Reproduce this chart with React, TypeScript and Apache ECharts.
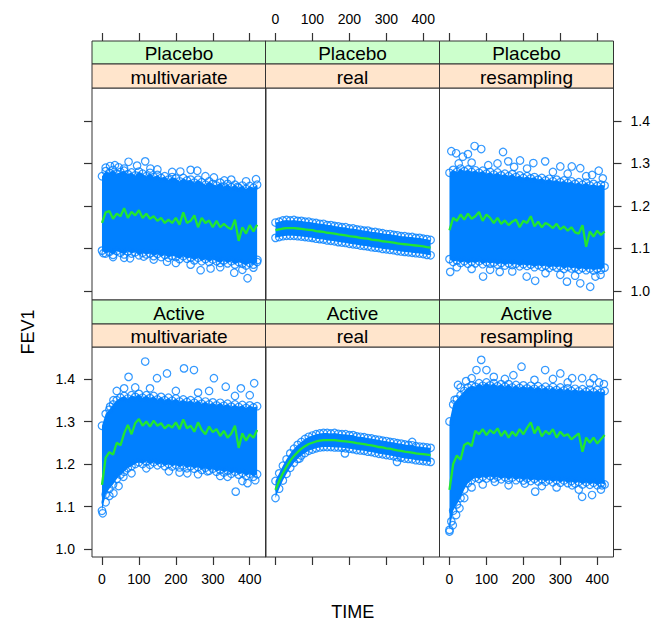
import React, { useEffect, useRef } from "react";
import * as echarts from "echarts";

// ---------- data ----------
const TIME = [0,10,20,30,40,50,60,70,80,90,100,110,120,130,140,150,160,170,180,190,200,210,220,230,240,250,260,270,280,290,300,310,320,330,340,350,360,370,380,390,400,410,420];

const TREATMENT = ["Placebo","Placebo","Placebo","Active","Active","Active"];
const METHOD = ["multivariate","real","resampling","multivariate","real","resampling"];

const X_TICKS = [0,100,200,300,400];
const Y_TICKS = [1.0,1.1,1.2,1.3,1.4];

// Placebo / multivariate
const MEAN_PM = [1.160,1.185,1.188,1.170,1.182,1.176,1.195,1.172,1.186,1.178,
  1.190,1.172,1.182,1.170,1.176,1.165,1.172,1.160,1.168,1.160,
  1.172,1.156,1.185,1.160,1.165,1.178,1.150,1.172,1.160,1.166,
  1.150,1.165,1.150,1.158,1.150,1.145,1.168,1.118,1.150,1.135,
  1.155,1.140,1.156];
const HI_PM = [1.270,1.282,1.278,1.285,1.276,1.280,1.283,1.275,1.279,1.272,
  1.281,1.276,1.270,1.278,1.268,1.273,1.266,1.270,1.262,1.268,
  1.265,1.258,1.266,1.260,1.262,1.255,1.262,1.256,1.250,1.258,
  1.252,1.248,1.255,1.246,1.252,1.244,1.250,1.243,1.248,1.240,
  1.247,1.243,1.250];
const LO_PM = [1.095,1.088,1.092,1.085,1.094,1.090,1.086,1.093,1.088,1.091,
  1.084,1.090,1.086,1.088,1.082,1.087,1.080,1.085,1.078,1.083,
  1.080,1.075,1.082,1.076,1.079,1.072,1.078,1.070,1.075,1.068,
  1.074,1.070,1.066,1.072,1.065,1.070,1.062,1.068,1.064,1.060,
  1.066,1.062,1.068];
const OUT_PM = [[22,1.294],[45,1.291],[72,1.304],[117,1.305],[131,1.288],[212,1.281],[240,1.285],[258,1.283],[303,1.267],[331,1.260],[367,1.245],[417,1.263],
  [10,1.290],[35,1.296],[60,1.288],[95,1.295],[150,1.286],[190,1.280],[280,1.270],[350,1.262],[390,1.258],
  [4,1.089],[76,1.077],[113,1.081],[176,1.069],[267,1.049],[294,1.053],[358,1.043],[394,1.030],[421,1.073],
  [30,1.080],[60,1.078],[140,1.074],[200,1.066],[240,1.062],[320,1.056],[380,1.050],[410,1.055]];

// Placebo / real
const MEAN_PR = [1.143,1.145,1.147,1.148,1.148,1.148,1.147,1.146,1.145,1.144,
  1.143,1.141,1.140,1.139,1.137,1.136,1.135,1.133,1.132,1.131,
  1.129,1.128,1.127,1.125,1.124,1.123,1.121,1.120,1.119,1.117,
  1.116,1.115,1.114,1.112,1.111,1.110,1.109,1.108,1.107,1.106,
  1.105,1.103,1.102];
const HI_PR = [1.161,1.163,1.166,1.167,1.166,1.167,1.165,1.165,1.163,1.163,
  1.161,1.160,1.158,1.158,1.155,1.155,1.153,1.152,1.150,1.150,
  1.147,1.147,1.145,1.144,1.142,1.142,1.139,1.139,1.137,1.136,
  1.134,1.134,1.132,1.131,1.129,1.129,1.127,1.127,1.125,1.125,
  1.123,1.122,1.120];
const LO_PR = [1.125,1.127,1.129,1.130,1.130,1.130,1.129,1.128,1.127,1.126,
  1.125,1.123,1.122,1.121,1.119,1.118,1.117,1.115,1.114,1.113,
  1.111,1.110,1.109,1.107,1.106,1.105,1.103,1.102,1.101,1.099,
  1.098,1.097,1.096,1.094,1.093,1.092,1.091,1.090,1.089,1.088,
  1.087,1.085,1.084];
const OUT_PR: number[][] = [];

// Placebo / resampling
const MEAN_PS = [1.143,1.172,1.165,1.180,1.168,1.182,1.170,1.176,1.186,1.165,
  1.180,1.172,1.160,1.172,1.158,1.166,1.155,1.163,1.168,1.150,
  1.165,1.160,1.176,1.152,1.163,1.150,1.160,1.155,1.148,1.158,
  1.145,1.152,1.142,1.150,1.138,1.135,1.155,1.104,1.140,1.128,
  1.142,1.132,1.140];
const HI_PS = [1.278,1.285,1.280,1.288,1.282,1.286,1.280,1.284,1.278,1.283,
  1.276,1.280,1.274,1.279,1.272,1.276,1.270,1.275,1.268,1.272,
  1.266,1.270,1.265,1.268,1.262,1.266,1.260,1.264,1.258,1.262,
  1.256,1.260,1.254,1.258,1.252,1.256,1.250,1.255,1.248,1.252,
  1.247,1.250,1.248];
const LO_PS = [1.075,1.068,1.072,1.066,1.070,1.064,1.069,1.065,1.070,1.063,
  1.068,1.064,1.067,1.062,1.066,1.060,1.065,1.061,1.064,1.058,
  1.063,1.059,1.062,1.056,1.061,1.057,1.060,1.054,1.059,1.055,
  1.058,1.052,1.057,1.053,1.055,1.050,1.054,1.049,1.053,1.048,
  1.052,1.050,1.055];
const OUT_PS = [[5,1.329],[18,1.324],[36,1.316],[50,1.322],[68,1.341],[86,1.334],[145,1.327],[159,1.305],[191,1.307],[227,1.301],[259,1.305],[300,1.293],[331,1.293],[354,1.289],[386,1.273],[404,1.283],
  [25,1.300],[60,1.302],[105,1.296],[130,1.300],[175,1.292],[210,1.288],[280,1.280],[320,1.276],[370,1.270],[415,1.265],
  [2,1.045],[91,1.034],[136,1.045],[209,1.034],[232,1.024],[318,1.022],[354,1.018],[381,1.010],[409,1.038],
  [20,1.056],[60,1.052],[110,1.050],[170,1.046],[260,1.042],[300,1.038],[340,1.036],[395,1.034]];

// Active / multivariate
const MEAN_AM = [1.151,1.215,1.228,1.222,1.250,1.244,1.272,1.292,1.270,1.296,
  1.306,1.290,1.300,1.288,1.302,1.290,1.296,1.284,1.292,1.286,
  1.298,1.282,1.305,1.284,1.290,1.276,1.298,1.280,1.270,1.288,
  1.275,1.282,1.266,1.278,1.262,1.272,1.290,1.238,1.272,1.255,
  1.270,1.262,1.280];
const HI_AM = [1.290,1.318,1.328,1.340,1.350,1.356,1.360,1.354,1.362,1.358,
  1.365,1.356,1.362,1.355,1.360,1.352,1.358,1.350,1.356,1.349,
  1.354,1.347,1.352,1.346,1.350,1.344,1.350,1.342,1.347,1.340,
  1.345,1.338,1.344,1.337,1.342,1.335,1.340,1.334,1.339,1.332,
  1.338,1.333,1.336];
const LO_AM = [1.090,1.128,1.142,1.152,1.165,1.175,1.182,1.190,1.195,1.200,
  1.204,1.200,1.206,1.198,1.204,1.197,1.202,1.195,1.200,1.194,
  1.198,1.192,1.197,1.190,1.195,1.189,1.193,1.186,1.191,1.184,
  1.189,1.182,1.186,1.180,1.184,1.177,1.182,1.175,1.179,1.172,
  1.177,1.170,1.176];
const OUT_AM = [[117,1.441],[72,1.405],[176,1.413],[222,1.425],[249,1.421],[303,1.402],[335,1.382],[376,1.378],[412,1.390],[22,1.335],[31,1.350],[149,1.402],
  [40,1.372],[60,1.378],[90,1.380],[130,1.378],[200,1.372],[260,1.368],[290,1.372],[360,1.360],[400,1.362],
  [2,1.084],[31,1.131],[58,1.170],[181,1.183],[231,1.178],[285,1.183],[340,1.170],[362,1.135],[394,1.155],
  [10,1.110],[20,1.125],[45,1.148],[80,1.178],[120,1.190],[210,1.180],[260,1.176],[320,1.172],[380,1.160],[415,1.162]];

// Active / real
const MEAN_AR = [1.139,1.160,1.178,1.194,1.208,1.219,1.228,1.236,1.242,1.247,
  1.250,1.253,1.255,1.256,1.256,1.256,1.256,1.255,1.254,1.253,
  1.252,1.251,1.249,1.248,1.247,1.245,1.244,1.242,1.240,1.239,
  1.237,1.236,1.234,1.232,1.231,1.229,1.228,1.227,1.225,1.224,
  1.223,1.222,1.221];
const HI_AR = [1.160,1.178,1.196,1.211,1.225,1.236,1.245,1.252,1.259,1.264,
  1.267,1.270,1.272,1.273,1.273,1.272,1.273,1.271,1.270,1.270,
  1.268,1.268,1.265,1.264,1.263,1.261,1.260,1.258,1.257,1.255,
  1.254,1.252,1.251,1.249,1.248,1.246,1.245,1.244,1.242,1.241,
  1.240,1.239,1.238];
const LO_AR = [1.120,1.142,1.161,1.177,1.191,1.203,1.212,1.220,1.226,1.231,
  1.234,1.237,1.239,1.240,1.240,1.240,1.239,1.239,1.238,1.237,
  1.236,1.235,1.233,1.232,1.231,1.229,1.228,1.226,1.224,1.223,
  1.221,1.220,1.218,1.216,1.215,1.213,1.212,1.211,1.209,1.208,
  1.207,1.206,1.205];
const OUT_AR = [[65,1.213],[188,1.225],[329,1.205],[370,1.252]];

// Active / resampling
const MEAN_AS = [1.139,1.200,1.220,1.210,1.245,1.250,1.242,1.278,1.270,1.282,
  1.268,1.280,1.272,1.284,1.266,1.278,1.262,1.276,1.266,1.282,
  1.270,1.285,1.298,1.272,1.288,1.265,1.278,1.270,1.282,1.262,
  1.276,1.266,1.270,1.258,1.265,1.272,1.229,1.262,1.250,1.262,
  1.248,1.258,1.268];
const HI_AS = [1.300,1.340,1.352,1.362,1.372,1.380,1.385,1.382,1.390,1.384,
  1.392,1.385,1.390,1.383,1.388,1.382,1.388,1.380,1.386,1.379,
  1.385,1.378,1.384,1.377,1.383,1.376,1.382,1.375,1.381,1.374,
  1.380,1.373,1.378,1.372,1.377,1.371,1.376,1.370,1.375,1.369,
  1.374,1.368,1.372];
const LO_AS = [1.045,1.090,1.105,1.120,1.140,1.155,1.162,1.168,1.165,1.170,
  1.166,1.172,1.166,1.170,1.164,1.169,1.163,1.168,1.162,1.167,
  1.161,1.166,1.160,1.165,1.159,1.164,1.158,1.163,1.157,1.162,
  1.156,1.161,1.155,1.160,1.154,1.158,1.152,1.157,1.151,1.156,
  1.150,1.155,1.152];
const OUT_AS = [[86,1.445],[73,1.421],[100,1.421],[23,1.386],[195,1.429],[173,1.409],[259,1.421],[300,1.413],[332,1.402],[359,1.402],[390,1.402],[418,1.388],[14,1.351],
  [30,1.380],[45,1.395],[60,1.402],[120,1.405],[150,1.400],[230,1.398],[280,1.400],[320,1.392],[380,1.390],[405,1.392],
  [0,1.041],[9,1.056],[27,1.096],[123,1.158],[204,1.154],[232,1.135],[332,1.150],[359,1.123],[386,1.127],[413,1.150],
  [5,1.065],[18,1.080],[40,1.120],[60,1.145],[90,1.152],[160,1.150],[250,1.148],[290,1.145],[350,1.140],[410,1.140]];

const MEANS = [MEAN_PM, MEAN_PR, MEAN_PS, MEAN_AM, MEAN_AR, MEAN_AS];
const HIS = [HI_PM, HI_PR, HI_PS, HI_AM, HI_AR, HI_AS];
const LOS = [LO_PM, LO_PR, LO_PS, LO_AM, LO_AR, LO_AS];
const OUTS = [OUT_PM, OUT_PR, OUT_PS, OUT_AM, OUT_AR, OUT_AS];

// ---------- layout / style ----------
const FONT = "'Liberation Sans', Arial, Helvetica, sans-serif";
const BLUE = "#0080ff";
const GREEN = "#22e632";
const BORDER = "#333333";
const COL_LEFT = [92, 265.5, 439.5];
const COL_W = 174;
const PANEL_TOP = [88, 347];
const PANEL_H = [212, 210];
const STRIP_TOP = [41, 300];
const STRIP_MID = [64, 324];
const Y_MIN = [0.9788, 0.9812];
const Y_MAX = [1.4776, 1.4753];
const X_MIN = -27;
const X_MAX = 444;

function buildOption() {
  const grid: any[] = [];
  const xAxis: any[] = [];
  const yAxis: any[] = [];
  const series: any[] = [];
  const graphic: any[] = [];

  for (let i = 0; i < 6; i++) {
    const r = Math.floor(i / 3);
    const c = i % 3;
    grid.push({
      left: COL_LEFT[c], top: PANEL_TOP[r], width: COL_W, height: PANEL_H[r],
      show: true, borderColor: BORDER, borderWidth: 1, backgroundColor: "transparent",
      containLabel: false, outerBoundsMode: "none",
    });
    xAxis.push({
      type: "value", gridIndex: i, min: X_MIN, max: X_MAX,
      position: r === 0 ? "top" : "bottom",
      offset: r === 0 ? PANEL_TOP[0] - STRIP_TOP[0] : 0,
      axisLine: { show: false, onZero: false }, splitLine: { show: false },
      axisTick: { show: true, inside: false, length: 8, customValues: X_TICKS, lineStyle: { color: BORDER, width: 1.2 } },
      axisLabel: {
        show: (r === 0 && c === 1) || (r === 1 && c !== 1),
        customValues: X_TICKS, margin: 15, color: "#000", fontSize: 14, fontFamily: FONT,
      },
    });
    yAxis.push({
      type: "value", gridIndex: i, min: Y_MIN[r], max: Y_MAX[r],
      position: c === 2 ? "right" : "left",
      show: c !== 1,
      axisLine: { show: false, onZero: false }, splitLine: { show: false },
      axisTick: { show: true, inside: false, length: 8, customValues: Y_TICKS, lineStyle: { color: BORDER, width: 1.2 } },
      axisLabel: {
        show: (c === 0 && r === 1) || (c === 2 && r === 0),
        customValues: Y_TICKS, margin: 17, color: "#000", fontSize: 14, fontFamily: FONT,
        formatter: (v: number) => v.toFixed(1),
      },
    });

    const hi = HIS[i];
    const lo = LOS[i];
    series.push({
      type: "custom", xAxisIndex: i, yAxisIndex: i, silent: true, z: 1,
      data: [[TIME[0], lo[0]]],
      renderItem: (_p: any, api: any) => {
        const pts: number[][] = [];
        for (let k = 0; k < TIME.length; k++) pts.push(api.coord([TIME[k], hi[k]]));
        for (let k = TIME.length - 1; k >= 0; k--) pts.push(api.coord([TIME[k], lo[k]]));
        return { type: "polygon", shape: { points: pts }, style: { fill: BLUE } };
      },
    });
    series.push({
      type: "scatter", xAxisIndex: i, yAxisIndex: i, silent: true, z: 2,
      symbol: "circle", symbolSize: 7.5,
      itemStyle: { color: "rgba(0,0,0,0)", borderColor: BLUE, borderWidth: 1.2 },
      data: TIME.map((t, k) => [t, hi[k]]).concat(TIME.map((t, k) => [t, lo[k]])).concat(OUTS[i]),
    });
    series.push({
      type: "line", xAxisIndex: i, yAxisIndex: i, silent: true, z: 5,
      showSymbol: false, symbol: "none",
      lineStyle: { color: GREEN, width: 2.3 },
      data: TIME.map((t, k) => [t, MEANS[i][k]]),
    });

    // strips
    const x0 = COL_LEFT[c];
    const cx = x0 + COL_W / 2;
    const sTop = STRIP_TOP[r];
    const sMid = STRIP_MID[r];
    const sBot = PANEL_TOP[r];
    graphic.push({ type: "rect", shape: { x: x0, y: sTop, width: COL_W, height: sMid - sTop }, style: { fill: "#ccffcc", stroke: BORDER, lineWidth: 1 } });
    graphic.push({ type: "rect", shape: { x: x0, y: sMid, width: COL_W, height: sBot - sMid }, style: { fill: "#ffe5cc", stroke: BORDER, lineWidth: 1 } });
    graphic.push({ type: "text", x: cx, y: (sTop + sMid) / 2 + 1, style: { text: TREATMENT[i], fontSize: 19, fontFamily: FONT, fill: "#000", align: "center", verticalAlign: "middle" } });
    graphic.push({ type: "text", x: cx, y: (sMid + sBot) / 2 + 1, style: { text: METHOD[i], fontSize: 19, fontFamily: FONT, fill: "#000", align: "center", verticalAlign: "middle" } });
  }

  graphic.push({ type: "text", x: (COL_LEFT[0] + COL_LEFT[2] + COL_W) / 2, y: 612, style: { text: "TIME", fontSize: 18, fontFamily: FONT, fill: "#000", align: "center", verticalAlign: "middle" } });
  graphic.push({ type: "text", x: 28, y: 332, rotation: Math.PI / 2, style: { text: "FEV1", fontSize: 18, fontFamily: FONT, fill: "#000", align: "center", verticalAlign: "middle" } });

  return { animation: false, backgroundColor: "#fff", grid, xAxis, yAxis, series, graphic };
}

export default function App() {
  const ref = useRef<HTMLDivElement>(null);
  useEffect(() => {
    if (!ref.current) return;
    const chart = echarts.init(ref.current, undefined, { renderer: "svg" });
    chart.setOption(buildOption() as any);
    return () => chart.dispose();
  }, []);
  return <div ref={ref} style={{ position: "absolute", left: 0, top: 0, width: 667, height: 625 }} />;
}
